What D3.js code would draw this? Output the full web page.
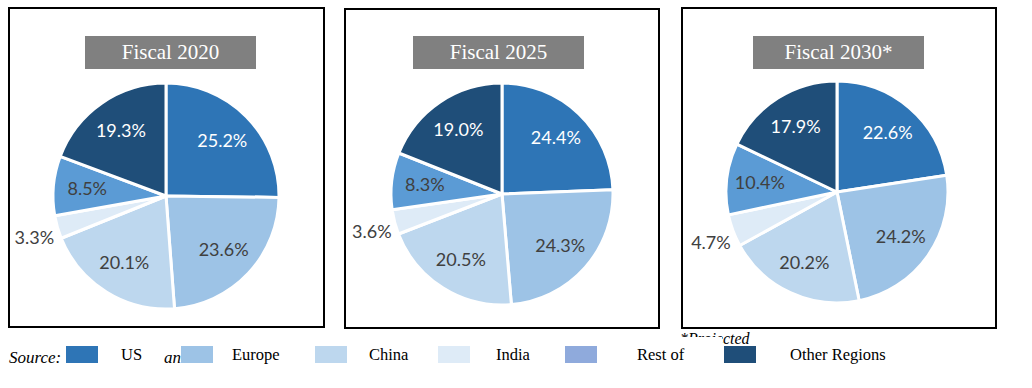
<!DOCTYPE html>
<html>
<head>
<meta charset="utf-8">
<script src="https://cdn.jsdelivr.net/npm/d3@7"></script>
<style>
  body { margin: 0; background: #fff; }
  svg { display: block; }
</style>
</head>
<body>
<div id="chart"></div>
<script>
// data
var regions = ["US", "Europe", "China", "India", "Rest of World", "Other Regions"];
var years = ["Fiscal 2020", "Fiscal 2025", "Fiscal 2030*"];
var share2020 = [25.2, 23.6, 20.1, 3.3, 8.5, 19.3];
var share2025 = [24.4, 24.3, 20.5, 3.6, 8.3, 19.0];
var share2030 = [22.6, 24.2, 20.2, 4.7, 10.4, 17.9];
var legendLabels = ["US", "Europe", "China", "India", "Rest of", "Other Regions"];

var sliceColors = ["#2e75b6", "#9dc3e6", "#bdd7ee", "#deebf7", "#5b9bd5", "#1f4e79"];
var legendColors = ["#2e75b6", "#9dc3e6", "#bdd7ee", "#deebf7", "#8faadc", "#1f4e79"];
var labelColors = ["#fff", "#404040", "#404040", "#404040", "#404040", "#fff"];

var panels = [
    {title: years[0], values: share2020, box: [9, 8, 315, 319], cx: 166, cy: 196, r: 113, tx: 85},
    {title: years[1], values: share2025, box: [345, 9, 314, 319], cx: 502, cy: 194, r: 111, tx: 413},
    {title: years[2], values: share2030, box: [682, 8, 314, 320], cx: 837, cy: 192, r: 111, tx: 753}
];

var svg = d3.select("#chart").append("svg")
    .attr("width", 1032)
    .attr("height", 388);

var pie = d3.pie().sort(null).value(function(d) { return d; });

// footnotes drawn first, the legend sits over parts of them
svg.append("text")
    .attr("x", 9).attr("y", 363)
    .style("font-family", "'Liberation Serif', serif")
    .style("font-style", "italic")
    .style("font-size", "17px")
    .text("Source:");
svg.append("text")
    .attr("x", 181).attr("y", 363)
    .attr("text-anchor", "end")
    .style("font-family", "'Liberation Serif', serif")
    .style("font-style", "italic")
    .style("font-size", "17px")
    .text("an");

svg.append("text")
    .attr("x", 680).attr("y", 344)
    .style("font-family", "'Liberation Serif', serif")
    .style("font-style", "italic")
    .style("font-size", "16px")
    .text("*Projected");

panels.forEach(function(p) {
    var g = svg.append("g");
    g.append("rect")
        .attr("x", p.box[0]).attr("y", p.box[1])
        .attr("width", p.box[2]).attr("height", p.box[3])
        .attr("fill", "#fff")
        .attr("stroke", "#000")
        .attr("stroke-width", 2);

    g.append("rect")
        .attr("x", p.tx).attr("y", 36)
        .attr("width", 171).attr("height", 33)
        .attr("fill", "#808080");
    g.append("text")
        .attr("x", p.tx + 85.5).attr("y", 59)
        .attr("text-anchor", "middle")
        .attr("fill", "#fff")
        .style("font-family", "'Liberation Serif', serif")
        .style("font-size", "21px")
        .text(p.title);

    var arc = d3.arc().innerRadius(0).outerRadius(p.r);
    var labelArc = d3.arc().innerRadius(p.r * 0.7).outerRadius(p.r * 0.7);
    var outerArc = d3.arc().innerRadius(p.r * 1.24).outerRadius(p.r * 1.24);

    var pg = g.append("g").attr("transform", "translate(" + p.cx + "," + p.cy + ")");
    var arcs = pie(p.values);

    pg.selectAll(".slice")
        .data(arcs)
        .enter()
        .append("path")
        .attr("class", "slice")
        .attr("d", arc)
        .attr("fill", function(d, i) { return sliceColors[i]; })
        .attr("stroke", "#fff")
        .attr("stroke-width", 3)
        .attr("stroke-linejoin", "round");

    pg.selectAll(".lbl")
        .data(arcs)
        .enter()
        .append("text")
        .attr("class", "lbl")
        .attr("transform", function(d, i) {
            var c = (i == 3) ? outerArc.centroid(d) : labelArc.centroid(d);
            if (i == 3) { c[0] += 3; c[1] += 3; }
            return "translate(" + c + ")";
        })
        .attr("text-anchor", "middle")
        .attr("dy", "0.35em")
        .attr("fill", function(d, i) { return labelColors[i]; })
        .style("font-family", "Lato, 'Open Sans', sans-serif")
        .style("font-size", "18px")
        .text(function(d) { return d.data.toFixed(1) + "%"; });
});

// legend
var legX = [66, 181, 315, 438, 565, 724];
var legTextX = [121, 232, 369, 496, 637, 790];

// white backing that hides part of the footnote
svg.append("rect").attr("x", 600).attr("y", 337).attr("width", 122).attr("height", 30).attr("fill", "#fff");

var leg = svg.selectAll(".leg")
    .data(legendLabels)
    .enter()
    .append("g")
    .attr("class", "leg");

leg.append("rect")
    .attr("x", function(d, i) { return legX[i]; })
    .attr("y", 346)
    .attr("width", 32)
    .attr("height", 17)
    .attr("fill", function(d, i) { return legendColors[i]; });

leg.append("text")
    .attr("x", function(d, i) { return legTextX[i]; })
    .attr("y", 360)
    .style("font-family", "'Liberation Serif', serif")
    .style("font-size", "16.5px")
    .attr("fill", "#000")
    .text(function(d) { return d; });
</script>
</body>
</html>
